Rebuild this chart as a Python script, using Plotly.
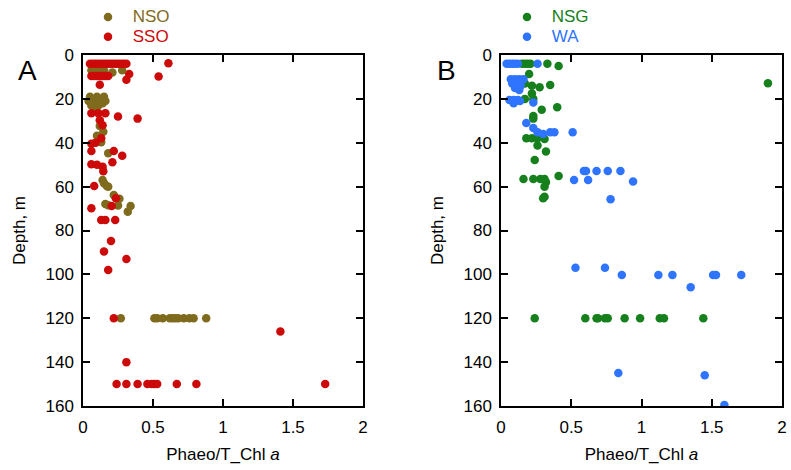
import plotly.graph_objects as go

# ---- Panel A: NSO and SSO (ratio, depth in m) ----
nso_x = [0.06, 0.09, 0.12, 0.15, 0.21, 0.28,
         0.05, 0.10, 0.15, 0.04, 0.08, 0.12, 0.16, 0.06, 0.11, 0.14, 0.09,
         0.12, 0.145, 0.10, 0.13, 0.18,
         0.14, 0.15, 0.17, 0.18, 0.22, 0.26, 0.16, 0.18, 0.25, 0.34, 0.32,
         0.27, 0.51, 0.53, 0.57, 0.62, 0.64, 0.66, 0.68, 0.72, 0.76, 0.79, 0.88]
nso_y = [7, 7, 7, 7, 8, 7,
         19, 19, 19, 21, 21, 21, 21, 23, 23, 22, 24,
         32.4, 35, 36.8, 39.8, 44.8,
         57, 58.5, 59.7, 60, 63.8, 65.5, 67.9, 68.5, 68.6, 68.8, 71.4,
         120, 120, 120, 120, 120, 120, 120, 120, 120, 120, 120, 120]

sso_x = [0.05, 0.07, 0.09, 0.11, 0.13, 0.15, 0.17, 0.19, 0.21, 0.23, 0.25, 0.27, 0.29, 0.31, 0.61,
         0.06, 0.08, 0.10, 0.12, 0.14, 0.16, 0.18, 0.33, 0.31, 0.54,
         0.12,
         0.06, 0.11, 0.16, 0.25, 0.39, 0.12, 0.14,
         0.13, 0.09, 0.06, 0.06, 0.22, 0.28,
         0.06, 0.10, 0.14, 0.21, 0.145, 0.08,
         0.235, 0.205, 0.06, 0.13, 0.16, 0.23,
         0.20, 0.15, 0.31, 0.18,
         0.22, 1.41, 0.31,
         0.24, 0.31, 0.39, 0.46, 0.49, 0.51, 0.53, 0.67, 0.81, 1.73]
sso_y = [4, 4, 4, 4, 4, 4, 4, 4, 4, 4, 4, 4, 4, 4, 3.8,
         9.6, 9.6, 9.6, 9.6, 9.6, 9.6, 9.6, 8.7, 11.3, 9.8,
         13.6,
         26.6, 26.5, 26.5, 28, 29, 29.8, 32,
         38, 40, 40.5, 43.8, 43.8, 45.9,
         49.8, 50, 50.9, 48.9, 53, 59.7,
         65.3, 68.8, 69.9, 75.2, 75.2, 75.2,
         84.8, 89.6, 93, 98,
         120, 126, 140,
         150, 150, 150, 150, 150, 150, 150, 150, 150, 150]

# ---- Panel B: NSG and WA ----
nsg_x = [0.15, 0.17, 0.19, 0.21, 0.33, 0.41,
         0.20, 0.17, 0.22, 0.275, 0.35, 0.22, 1.90, 0.17, 0.23, 0.29, 0.40, 0.23, 0.23,
         0.18, 0.22, 0.26, 0.31, 0.26, 0.32, 0.24,
         0.16, 0.23, 0.28, 0.31, 0.41, 0.32, 0.31, 0.31, 0.30,
         0.24, 0.60, 0.68, 0.69, 0.74, 0.76, 0.88, 0.99, 1.13, 1.16, 1.44]
nsg_y = [4, 4, 4, 4, 4, 5,
         8.7, 13, 14, 14.7, 13.7, 17.5, 12.9, 20, 20, 25, 23.8, 27.8, 29,
         38, 38, 38, 38.3, 41.3, 44, 47.9,
         56.5, 56.5, 56.5, 56.5, 55.2, 58, 60, 64.6, 65.3,
         120, 120, 120, 120, 120, 120, 120, 120, 120, 120, 120]

wa_x = [0.04, 0.06, 0.08, 0.10, 0.12, 0.26,
        0.07, 0.10, 0.13, 0.16, 0.08, 0.11, 0.14, 0.10, 0.13,
        0.06, 0.09, 0.12, 0.135, 0.09, 0.23,
        0.18, 0.23, 0.26, 0.30, 0.35, 0.38, 0.51,
        0.52, 0.59, 0.605, 0.62, 0.68, 0.76, 0.85, 0.94, 0.78,
        0.53, 0.74, 0.86, 1.12, 1.22, 1.35, 1.51, 1.53, 1.71,
        0.835, 1.45, 1.59]
wa_y = [4, 4, 4, 4, 4, 4,
        11, 11, 11, 11, 13, 13, 14, 15, 16,
        20.5, 20.5, 20.5, 21, 22, 21.7,
        31, 33.3, 35.2, 36, 35.2, 35.2, 35.2,
        57, 52.9, 52.9, 57, 52.9, 52.9, 52.9, 57.7, 65.8,
        97, 97, 100.3, 100.3, 100.3, 105.9, 100.3, 100.3, 100.3,
        145, 146, 159.5]

C_NSO = "#7f6b1d"
C_SSO = "#cc0a0a"
C_NSG = "#16801c"
C_WA = "#2f74ff"

W, H = 791, 470
FONT = "Liberation Sans, Arial, sans-serif"
FS = 17

fig = go.Figure()


def add(xs, ys, name, color, xa, ya, legend):
    fig.add_trace(go.Scatter(
        x=xs, y=ys, mode="markers", xaxis=xa, yaxis=ya, legend=legend,
        name=f"<span style='color:{color};font-size:{FS}px'>&nbsp;{name}</span>",
        marker=dict(size=8.5, color=color, line=dict(width=0)),
    ))


add(nso_x, nso_y, "NSO", C_NSO, "x", "y", "legend")
add(sso_x, sso_y, "SSO", C_SSO, "x", "y", "legend")
add(nsg_x, nsg_y, "NSG", C_NSG, "x2", "y2", "legend2")
add(wa_x, wa_y, "WA", C_WA, "x2", "y2", "legend2")

ydom = [1 - 406 / H, 1 - 55 / H]
axis_common = dict(
    showline=True, linecolor="black", linewidth=1.5, mirror="ticks",
    ticks="inside", ticklen=7, tickwidth=1.5, tickcolor="black",
    showgrid=False, zeroline=False, automargin=False,
    tickfont=dict(family=FONT, size=FS, color="black"),
)
xaxis_common = dict(axis_common, range=[0, 2], tickvals=[0, 0.5, 1, 1.5, 2],
                    ticktext=["0", "0.5", "1", "1.5", "2"],
                    ticklabelstandoff=5,
                    title=dict(text="Phaeo/T_Chl <i>a</i>",
                               font=dict(family=FONT, size=FS, color="black"),
                               standoff=12))
yaxis_common = dict(axis_common, range=[160, 0], tickvals=list(range(0, 161, 20)),
                    ticklabelstandoff=4,
                    title=dict(text="Depth, m",
                               font=dict(family=FONT, size=FS, color="black"),
                               standoff=16))

legend_common = dict(xanchor="left", yanchor="top", bgcolor="rgba(0,0,0,0)",
                     font=dict(family=FONT, size=13), itemwidth=30,
                     tracegroupgap=0)

fig.update_layout(
    width=W, height=H,
    margin=dict(l=0, r=0, t=0, b=0, autoexpand=False),
    paper_bgcolor="white", plot_bgcolor="white",
    font=dict(family=FONT, size=FS, color="black"),
    xaxis=dict(xaxis_common, domain=[83 / W, 363 / W], anchor="y"),
    yaxis=dict(yaxis_common, domain=ydom, anchor="x"),
    xaxis2=dict(xaxis_common, domain=[501 / W, 782 / W], anchor="y2"),
    yaxis2=dict(yaxis_common, domain=ydom, anchor="x2"),
    legend=dict(legend_common, x=88 / W, y=1 - 2 / H),
    legend2=dict(legend_common, x=507 / W, y=1 - 2 / H),
    showlegend=True,
    annotations=[
        dict(text="A", x=27 / W, y=1 - 70 / H, xref="paper", yref="paper",
             xanchor="center", yanchor="middle", showarrow=False,
             font=dict(family=FONT, size=28, color="black")),
        dict(text="B", x=446 / W, y=1 - 70 / H, xref="paper", yref="paper",
             xanchor="center", yanchor="middle", showarrow=False,
             font=dict(family=FONT, size=28, color="black")),
    ],
)

fig.write_html("out.html")
